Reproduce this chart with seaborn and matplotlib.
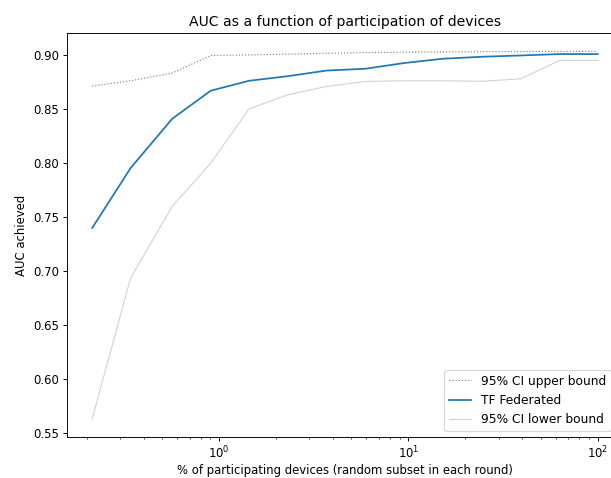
import matplotlib
matplotlib.use("Agg")
import matplotlib.pyplot as plt
import seaborn as sns
import pandas as pd

# Share of devices taking part in each round (%), log-spaced
participation = [0.214, 0.341, 0.566, 0.904, 1.44, 2.31, 3.71, 5.94,
                 9.53, 15.3, 24.5, 39.3, 62.9, 100.0]

# AUC reached by the federated model and its 95% confidence bounds
auc_upper = [0.8716, 0.8765, 0.8837, 0.9000, 0.9005, 0.9012, 0.9020, 0.9026,
             0.9030, 0.9033, 0.9035, 0.9037, 0.9038, 0.9038]
auc_mean = [0.7400, 0.7955, 0.8413, 0.8673, 0.8765, 0.8808, 0.8860, 0.8877,
            0.8930, 0.8970, 0.8988, 0.9000, 0.9013, 0.9013]
auc_lower = [0.5630, 0.6935, 0.7600, 0.8000, 0.8505, 0.8635, 0.8713, 0.8759,
             0.8765, 0.8765, 0.8760, 0.8784, 0.8954, 0.8954]

df = pd.DataFrame({
    "participation": participation,
    "upper": auc_upper,
    "mean": auc_mean,
    "lower": auc_lower,
})

DPI = 84
W, H = 611, 478
fig = plt.figure(figsize=(W / DPI, H / DPI), dpi=DPI)
ax = fig.add_axes([67 / W, 41 / H, 556 / W, 404 / H])

sns.lineplot(data=df, x="participation", y="upper", ax=ax, color="grey",
             linestyle=":", linewidth=1.0, label="95% CI upper bound")
sns.lineplot(data=df, x="participation", y="mean", ax=ax, color="#1f77b4",
             linewidth=1.5, label="TF Federated")
sns.lineplot(data=df, x="participation", y="lower", ax=ax, color="lightgrey",
             linewidth=1.0, label="95% CI lower bound")

ax.set_xscale("log")
ax.set_title("AUC as a function of participation of devices")
ax.set_xlabel("% of participating devices (random subset in each round)",
              labelpad=2)
ax.set_ylabel("AUC achieved")
ax.legend(loc="lower right", bbox_to_anchor=(0.99, 0.0), fontsize=10.5,
          handlelength=1.8)

fig.savefig("out.png", dpi=DPI)
